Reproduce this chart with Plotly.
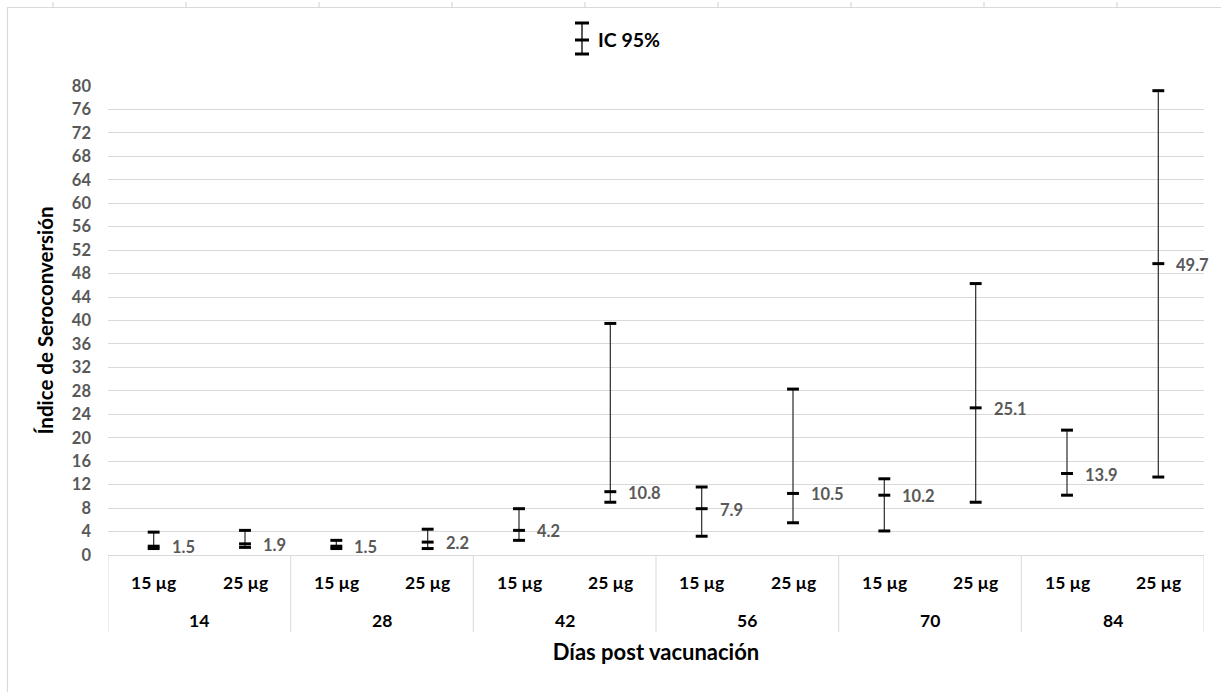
import plotly.graph_objects as go

# Serology data: seroconversion index with 95% confidence interval
days = ["14", "28", "42", "56", "70", "84"]
doses = ["15 µg", "25 µg"]
means = [1.5, 1.9, 1.5, 2.2, 4.2, 10.8, 7.9, 10.5, 10.2, 25.1, 13.9, 49.7]
ci_lower = [1.1, 1.3, 1.1, 1.1, 2.5, 9.0, 3.2, 5.5, 4.1, 9.0, 10.2, 13.3]
ci_upper = [3.9, 4.2, 2.5, 4.4, 7.9, 39.5, 11.6, 28.3, 13.0, 46.3, 21.3, 79.2]
y_ticks = list(range(0, 81, 4))

W, H = 1221, 692
L, R, T, B = 108, 17, 86, 137
FONT = "Lato, 'Open Sans', sans-serif"
GRID = "#d9d9d9"
LABEL_GRAY = "#595959"

cats = [f"{d}|{g}" for d in days for g in doses]
dose_of = [g for d in days for g in doses]


def px_x(px):
    return (px - L) / (W - L - R)


def px_y(py):
    return (H - B - py) / (H - T - B)


fig = go.Figure()

# CI whiskers (thin stems) with the mean drawn as a short horizontal tick
fig.add_trace(go.Scatter(
    x=cats, y=means, mode="markers",
    marker=dict(symbol="line-ew", size=8.5, color="black",
                line=dict(color="black", width=3)),
    error_y=dict(type="data", symmetric=False,
                 array=[u - m for u, m in zip(ci_upper, means)],
                 arrayminus=[m - lo for m, lo in zip(means, ci_lower)],
                 color="#3a3a3a", thickness=1.3, width=0),
    showlegend=False, hoverinfo="skip",
))

# Heavy caps at both CI bounds
fig.add_trace(go.Scatter(
    x=cats + cats, y=ci_lower + ci_upper, mode="markers",
    marker=dict(symbol="line-ew", size=8.5, color="black",
                line=dict(color="black", width=3)),
    showlegend=False, hoverinfo="skip",
))

annotations = []
# Value labels beside each mean
for c, m in zip(cats, means):
    annotations.append(dict(
        x=c, y=m, xref="x", yref="y", text=f"{m:.1f}", showarrow=False,
        xanchor="left", yanchor="middle", xshift=16, yshift=-1,
        font=dict(family=FONT, size=16.5, color=LABEL_GRAY, weight="bold"),
    ))

# Dose labels (inner category row)
for c, g in zip(cats, dose_of):
    annotations.append(dict(
        x=c, y=0, xref="x", yref="paper", text=g, showarrow=False,
        xanchor="center", yanchor="middle", yshift=-27,
        font=dict(family=FONT, size=17.5, color="black", weight="bold"),
    ))

# Day labels (outer category row)
for i, d in enumerate(days):
    annotations.append(dict(
        x=2 * i + 0.5, y=0, xref="x", yref="paper", text=d, showarrow=False,
        xanchor="center", yanchor="middle", yshift=-65,
        font=dict(family=FONT, size=17.5, color="black", weight="bold"),
    ))

# Legend text
annotations.append(dict(
    x=px_x(596), y=px_y(40), xref="paper", yref="paper", text="IC 95%",
    showarrow=False, xanchor="left", yanchor="middle",
    font=dict(family=FONT, size=19.5, color="black", weight="bold"),
))

shapes = []
# Group dividers below the axis
for k in range(len(days) + 1):
    shapes.append(dict(
        type="line", xref="x", yref="paper", x0=2 * k - 0.5, x1=2 * k - 0.5,
        y0=0, y1=px_y(632), line=dict(color=GRID, width=1),
    ))

# Legend glyph: whisker with caps and centre tick
gx = px_x(582)
hw = 7 / (W - L - R)
shapes.append(dict(type="line", xref="paper", yref="paper", x0=gx, x1=gx,
                   y0=px_y(23), y1=px_y(54), line=dict(color="black", width=1.3)))
for py in (23, 40, 54):
    shapes.append(dict(type="line", xref="paper", yref="paper",
                       x0=gx - hw, x1=gx + hw, y0=px_y(py), y1=px_y(py),
                       line=dict(color="black", width=3)))

# Chart area frame (top and left edges) and ruler ticks above it
shapes.append(dict(type="line", xref="paper", yref="paper", x0=px_x(7), x1=px_x(W),
                   y0=px_y(7.5), y1=px_y(7.5), line=dict(color=GRID, width=1.2)))
shapes.append(dict(type="line", xref="paper", yref="paper", x0=px_x(7.5), x1=px_x(7.5),
                   y0=px_y(7), y1=px_y(H), line=dict(color=GRID, width=1.2)))
for k in range(9):
    tx = px_x(53 + 133 * k)
    shapes.append(dict(type="line", xref="paper", yref="paper", x0=tx, x1=tx,
                       y0=px_y(2), y1=px_y(7), line=dict(color="#cfcfcf", width=1)))

fig.update_layout(
    width=W, height=H,
    margin=dict(l=L, r=R, t=T, b=B, autoexpand=False),
    paper_bgcolor="white", plot_bgcolor="white",
    font=dict(family=FONT),
    showlegend=False,
    annotations=annotations,
    shapes=shapes,
    xaxis=dict(
        type="category", categoryorder="array", categoryarray=cats,
        range=[-0.5, len(cats) - 0.5],
        showticklabels=False, showgrid=False, zeroline=False,
        showline=True, linecolor=GRID, linewidth=1,
        title=dict(text="Días post vacunación", standoff=89,
                   font=dict(family=FONT, size=22, color="black", weight="bold")),
        automargin=False, fixedrange=True,
    ),
    yaxis=dict(
        range=[0, 80], tickvals=y_ticks, ticktext=[str(v) for v in y_ticks],
        showgrid=True, gridcolor=GRID, gridwidth=1, zeroline=False,
        showline=False, ticks="", ticklabelstandoff=16,
        tickfont=dict(family=FONT, size=16.5, color=LABEL_GRAY, weight="bold"),
        title=dict(text="Índice de Seroconversión", standoff=12,
                   font=dict(family=FONT, size=20.5, color="black", weight="bold")),
        automargin=False, fixedrange=True,
    ),
)

fig.write_html("out.html")
